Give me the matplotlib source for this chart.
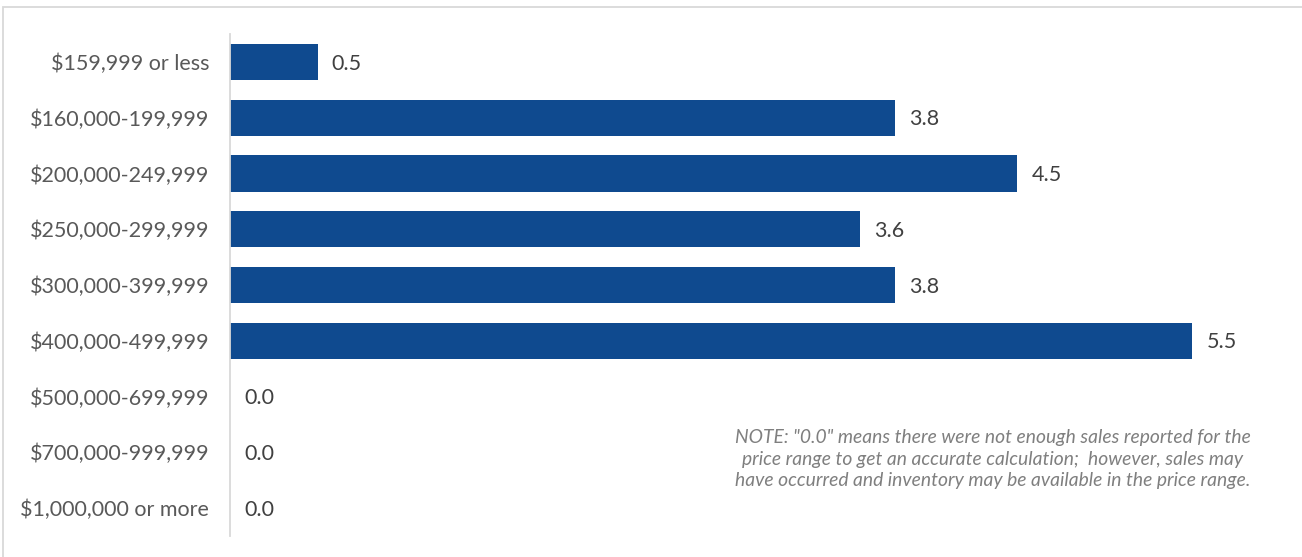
import matplotlib
matplotlib.use("Agg")
from matplotlib import pyplot as plt
from matplotlib.patches import Rectangle

plt.rcParams['font.family'] = ['Lato', 'DejaVu Sans']

# months of inventory by price range
price_ranges = ['$159,999 or less', '$160,000-199,999', '$200,000-249,999',
                '$250,000-299,999', '$300,000-399,999', '$400,000-499,999',
                '$500,000-699,999', '$700,000-999,999', '$1,000,000 or more']
months_supply = [0.5, 3.8, 4.5, 3.6, 3.8, 5.5, 0.0, 0.0, 0.0]

note = ('NOTE: "0.0" means there were not enough sales reported for the\n'
        'price range to get an accurate calculation;  however, sales may\n'
        'have occurred and inventory may be available in the price range.')

W, H = 1302, 557
fig = plt.figure(figsize=(W / 100, H / 100), dpi=100)

# light frame round the chart area
fig.patches.append(Rectangle((3 / W, -0.1), 1.2, (H - 7) / H + 0.1,
                             transform=fig.transFigure, fill=False,
                             edgecolor='#d9d9d9', linewidth=1.3))

ax = fig.add_axes([230 / W, 21 / H, 1050 / W, 502 / H])
ypos = list(range(len(price_ranges)))
ax.barh(ypos, months_supply, height=0.65, color='#0f4a8f')

for y, v in zip(ypos, months_supply):
    ax.text(v + 0.08, y + 0.03, f'{v:.1f}', va='center', ha='left',
            fontsize=15.5, color='#404040')

ax.set_xlim(0, 6.0)
ax.set_ylim(8.5, -0.5)
ax.set_yticks(ypos)
ax.set_yticklabels(price_ranges, fontsize=15.5, color='#595959')
ax.tick_params(axis='y', length=0, pad=15)
ax.set_xticks([])
for s in ['top', 'right', 'bottom']:
    ax.spines[s].set_visible(False)
ax.spines['left'].set_color('#d9d9d9')
ax.spines['left'].set_linewidth(1.3)

fig.text(993 / W, 1 - 459 / H, note, ha='center', va='center',
         fontsize=13.9, style='italic', color='#7f7f7f', linespacing=1.3)

fig.savefig('out.png', dpi=100)
